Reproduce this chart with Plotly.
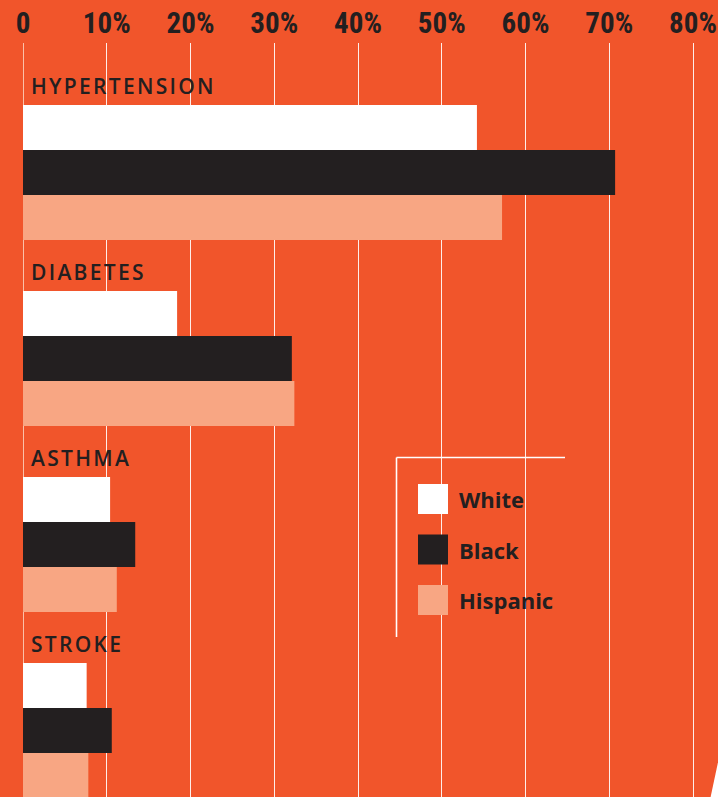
import json
import plotly.graph_objects as go

# ---- data ----
categories = ["HYPERTENSION", "DIABETES", "ASTHMA", "STROKE"]
white = [54.2, 18.4, 10.4, 7.6]
black = [70.7, 32.1, 13.4, 10.6]
hispanic = [57.2, 32.4, 11.2, 7.8]
series_names = ["White", "Black", "Hispanic"]
tick_values = [0, 10, 20, 30, 40, 50, 60, 70, 80]
tick_labels = ["0", "10%", "20%", "30%", "40%", "50%", "60%", "70%", "80%"]

# ---- style ----
W, H = 718, 797
ML, MR, MT, MB = 23, 0, 43, 0
BG = "#F1552B"
COLORS = ["#FFFFFF", "#231F20", "#F8A683"]
TEXT = "#231F20"
PW, PH = W - ML - MR, H - MT - MB


def px(x):
    return (x - ML) / PW


def py(y):
    return (H - MB - y) / PH


fig = go.Figure()
for name, vals, col in zip(series_names, [white, black, hispanic], COLORS):
    fig.add_trace(go.Bar(
        y=categories, x=vals, name=name, orientation="h",
        marker=dict(color=col, line=dict(width=0)),
        hoverinfo="x+name", showlegend=False,
    ))

fig.update_layout(
    width=W, height=H,
    margin=dict(l=ML, r=MR, t=MT, b=MB, pad=0),
    paper_bgcolor=BG, plot_bgcolor=BG,
    barmode="group", bargap=0.274, bargroupgap=0,
    xaxis=dict(
        side="top", range=[0, PW / 8.375], tickvals=tick_values, ticktext=tick_labels,
        showgrid=True, gridcolor="rgba(255,255,255,0.9)", gridwidth=1,
        zeroline=True, zerolinecolor="#FBC0A8", zerolinewidth=1,
        showline=False, ticks="outside", ticklen=1, tickcolor=BG,
        ticklabelstandoff=-4,
        tickfont=dict(family="Liberation Sans Narrow, Roboto Condensed, DejaVu Sans Condensed, sans-serif",
                      size=29, color=TEXT, weight="bold"),
        fixedrange=True,
    ),
    yaxis=dict(
        type="category", range=[3.358, -0.696], showticklabels=False,
        showgrid=False, zeroline=False, showline=False, fixedrange=True,
    ),
    font=dict(family="Open Sans", color=TEXT),
)

# category labels
for c in categories:
    fig.add_annotation(
        x=0, y=c, xref="x", yref="y", text=c, showarrow=False, align="left",
        xanchor="left", yanchor="middle", xshift=6, yshift=86,
        font=dict(family="Open Sans", size=21, color=TEXT, weight=600),
    )

# legend box (mask over gridlines + frame lines)
fig.add_shape(type="rect", xref="paper", yref="paper",
              x0=px(388), x1=px(580), y0=py(660), y1=py(433),
              fillcolor=BG, line=dict(width=0), layer="between")
fig.add_shape(type="line", xref="paper", yref="paper",
              x0=px(396.5), x1=px(565), y0=py(457.5), y1=py(457.5),
              line=dict(color="#FFFFFF", width=1.6))
fig.add_shape(type="line", xref="paper", yref="paper",
              x0=px(396.5), x1=px(396.5), y0=py(457.5), y1=py(637),
              line=dict(color="#FFFFFF", width=1.6))
for i, (name, col) in enumerate(zip(series_names, COLORS)):
    top = 484 + i * 50.5
    fig.add_shape(type="rect", xref="paper", yref="paper",
                  x0=px(418), x1=px(448), y0=py(top + 30), y1=py(top),
                  fillcolor=col, line=dict(width=0))
    fig.add_annotation(
        x=px(457), y=py(top + 15), xref="paper", yref="paper", text=name,
        showarrow=False, xanchor="left", yanchor="middle",
        font=dict(family="Open Sans", size=22, color=TEXT, weight="bold"),
    )

# white corner decoration at bottom-right
fig.add_shape(type="path", xref="paper", yref="paper",
              path=f"M {px(718.5)},{py(760)} L {px(710.5)},{py(797.5)} L {px(719)},{py(797.5)} Z",
              fillcolor="#FFFFFF", line=dict(width=0))

post = """
(function(){
  document.documentElement.style.margin = '0';
  document.documentElement.style.padding = '0';
  document.body.style.margin = '0';
  document.body.style.padding = '0';
  document.body.style.background = '%s';
  document.body.style.overflow = 'hidden';
  var cats = %s;
  function apply(){
    var gd = document.getElementById('{plot_id}');
    if(!gd) return;
    gd.querySelectorAll('.annotation-text').forEach(function(t){
      if(cats.indexOf(t.textContent) >= 0){ t.style.letterSpacing = '2.3px'; }
    });
  }
  apply();
  var gd = document.getElementById('{plot_id}');
  if(gd && gd.on){ gd.on('plotly_afterplot', apply); }
})();
""" % (BG, json.dumps(categories))

fig.write_html("out.html", config={"displayModeBar": False}, post_script=post)
